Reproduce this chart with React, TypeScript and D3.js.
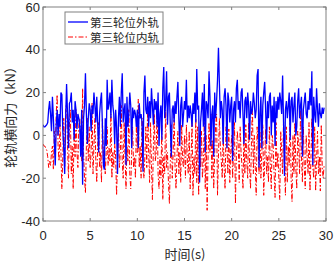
import React from "react";
import * as d3 from "d3";

const dt = 0.1;
const outerRail = [
  5, 4, 4, 4.5, 5, 6, 12, 16, 10, 2,
  18, 8, -3, -14, 5, 12, 0, 10, 4, 20,
  19, 2, -6, -18, 8, 24, 10, -6, 15, 16,
  20, 6, 12, -2, 16, 12, 3, 10, 8, 4,
  -10, 12, -23, 8, 14, 29, 10, -4, 8, 15,
  12, 2, 14, 10, 20, 14, 6, 18, 5, -8,
  10, 16, 20, 4, -14, -16, 8, -5, 26, 12,
  15, 20, 8, 26, 14, 10, -4, 12, 4, -18,
  8, 18, 4, 20, 29, 6, 12, 15, -14, 18,
  4, 10, 20, 14, -6, 13, 8, 12, 10, 4,
  12, -6, 15, 8, 10, 6, -17, 20, 28, 12,
  10, 18, 4, 16, 8, 22, 14, 5, 17, 12,
  16, 4, 20, -5, 10, 14, -2, 22, 32, 8,
  15, 30, 5, 18, 20, 4, -10, 12, 14, 6,
  16, 10, 18, 25, 8, -5, 14, 18, 4, 10,
  16, 12, 26, 6, 14, 8, 14, 10, 4, 15,
  10, 20, 6, 31, 12, 14, -22, 6, 12, 20,
  4, 24, -8, 16, 14, 8, 30, 18, -5, 10,
  14, -10, 20, 8, 16, 26, 41, 24, 8, 16,
  12, -4, 18, 22, 14, -6, 20, 16, 6, 14,
  18, -12, 12, 16, 6, 22, 26, 12, 16, 8,
  20, 22, 10, -4, 16, 18, 8, 20, 14, -2,
  16, 10, 12, 20, 15, 8, 12, 28, 31, -15,
  10, 18, -6, 14, 20, 25, 12, -4, 16, 8,
  18, 20, 0, 14, 6, 18, -5, 16, 8, 18,
  12, 20, 16, 10, 28, 6, -19, 12, 16, 8,
  14, 20, -2, 16, 18, 6, 14, 20, 0, 4,
  16, 22, 8, 14, 18, -10, 12, 16, 20, 10,
  8, 16, 12, 22, 14, 30, -14, 18, 10, 6,
  22, 12, 4, 15, 10, 8, 13, 10, 13,
];
const innerRail = [
  -4, -5, -5, -6, -7, -10, -15, -12, -14, -8,
  -5, -16, 2, -10, 10, 19, -5, -12, 5, -8,
  -25, -10, 8, -15, 12, 15, -5, -20, 5, 12,
  -18, -5, -25, 4, -10, 12, -8, -15, 5, 8,
  -5, -12, 22, -8, -20, -27, -5, 8, -12, 4,
  -15, -8, 15, -18, -5, 8, -12, -22, -4, 6,
  -15, -8, -22, 8, -10, -5, -18, -8, 4, -14,
  -6, -12, 10, -20, -8, -15, -4, -10, -28, -12,
  4, -15, -8, 14, -12, -20, 6, -10, -25, -5,
  -12, 12, -18, -25, -8, 4, -15, -10, -20, 5,
  -8, 17, -15, -5, -20, 8, -12, -20, -10, 4,
  -15, 16, -8, -22, 6, -14, -30, -5, 10, -12,
  -8, 15, -18, -25, -10, -20, 5, -30, -10, -18,
  12, -15, -8, -22, -32, -12, 5, -20, -8, 10,
  -15, -25, -10, 2, -18, -8, -22, 5, -12, -15,
  0, -20, 5, -12, -18, 2, -25, -10, 6, -28,
  -10, -18, 8, -22, 4, -28, -5, -15, 2, -20,
  -12, 8, -25, 0, -35, -10, 6, -8, 10, -20,
  -2, -25, -8, 5, 10, -28, -10, 8, -5, -12,
  -20, 2, -15, -25, 4, -5, -18, 3, -22, -8,
  0, -20, -8, 6, -32, -10, 2, -5, -22, 4,
  -8, -15, -25, 2, -18, 5, -12, -20, 6, -15,
  -25, -2, 14, -18, 0, -15, -28, 4, -5, -18,
  2, -20, -8, 5, -28, -12, 3, -18, -10, -22,
  4, -15, -25, 0, -5, -18, -29, 6, -15, -8,
  -20, -30, 2, -8, -18, 8, -15, -28, 4, -22,
  -5, -14, 14, -20, -31, 0, -18, 6, -15, -25,
  2, -5, -18, 12, -10, -22, 4, -15, -25, 0,
  -10, -18, 6, -26, -12, 8, -15, -20, 4, -26,
  -12, 2, -18, -10, -26, 5, -15, -20, -14,
];
const xTicks = [0, 5, 10, 15, 20, 25, 30];
const yTicks = [-40, -20, 0, 20, 40, 60];
const legendLabels = ["第三轮位外轨", "第三轮位内轨"];
const xLabel = "时间(s)";
const yLabel = "轮轨横向力（kN）";

const W = 335, H = 262;
const L = 43, R = 326, T = 7, B = 221;

export default function App() {
  const x = d3.scaleLinear().domain([0, 30]).range([L, R]);
  const y = d3.scaleLinear().domain([-40, 60]).range([B, T]);
  const line = d3
    .line<number>()
    .x((_, i) => x(i * dt))
    .y((d) => y(d));
  const axisColor = "#808080";
  const textColor = "#262626";
  const font = "'Liberation Sans', Arial, sans-serif";
  const cjk = "'Noto Sans CJK SC', sans-serif";
  return (
    <svg width={W} height={H} style={{ position: "absolute", left: 0, top: 0, background: "#fff" }}>
      <rect x={0} y={0} width={W} height={H} fill="#fff" />
      <defs>
        <clipPath id="clip">
          <rect x={L} y={T} width={R - L} height={B - T} />
        </clipPath>
      </defs>
      <g clipPath="url(#clip)">
        <path d={line(innerRail) || ""} fill="none" stroke="#ff0000" strokeWidth={1} strokeDasharray="5,2,1.5,2" />
        <path d={line(outerRail) || ""} fill="none" stroke="#0000ff" strokeWidth={1.3} />
      </g>
      <rect x={L} y={T} width={R - L} height={B - T} fill="none" stroke={axisColor} strokeWidth={1} />
      {xTicks.map((t) => (
        <g key={"x" + t}>
          <line x1={x(t)} x2={x(t)} y1={B} y2={B - 3} stroke={axisColor} />
          <line x1={x(t)} x2={x(t)} y1={T} y2={T + 3} stroke={axisColor} />
          <text x={x(t)} y={240} textAnchor="middle" fontFamily={font} fontSize={13} fill={textColor}>
            {t}
          </text>
        </g>
      ))}
      {yTicks.map((t) => (
        <g key={"y" + t}>
          <line x1={L} x2={L + 3} y1={y(t)} y2={y(t)} stroke={axisColor} />
          <line x1={R} x2={R - 3} y1={y(t)} y2={y(t)} stroke={axisColor} />
          <text x={40} y={y(t) + 4.5} textAnchor="end" fontFamily={font} fontSize={13} fill={textColor}>
            {t}
          </text>
        </g>
      ))}
      <text x={185} y={259} textAnchor="middle" fontFamily={cjk} fontSize={13} fill={textColor}>
        {xLabel}
      </text>
      <text
        transform={`translate(15,${114}) rotate(-90)`}
        textAnchor="middle"
        fontFamily={cjk}
        fontSize={13}
        fill={textColor}
      >
        {yLabel}
      </text>
      <g>
        <rect x={65} y={12} width={98} height={32} fill="#fff" stroke={axisColor} strokeWidth={1} />
        <line x1={68} x2={88} y1={22} y2={22} stroke="#0000ff" strokeWidth={1.3} />
        <line x1={68} x2={88} y1={37} y2={37} stroke="#ff0000" strokeWidth={1} strokeDasharray="5,2,1.5,2" />
        <text x={90} y={26.5} fontFamily={cjk} fontSize={11.5} fill={textColor}>
          {legendLabels[0]}
        </text>
        <text x={90} y={41.5} fontFamily={cjk} fontSize={11.5} fill={textColor}>
          {legendLabels[1]}
        </text>
      </g>
    </svg>
  );
}
